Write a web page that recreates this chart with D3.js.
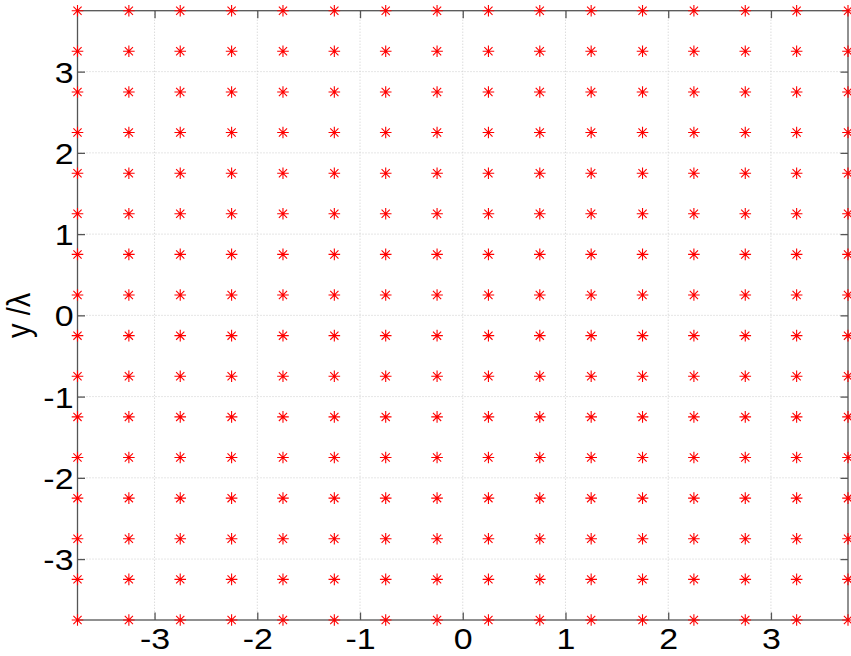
<!DOCTYPE html>
<html>
<head>
<meta charset="utf-8">
<script src="https://cdn.jsdelivr.net/npm/d3@7"></script>
<style>
  html, body { margin: 0; padding: 0; background: #fff; }
  svg { display: block; }
  text { font-family: "Liberation Sans", Arial, Helvetica, sans-serif; fill: #000; }
</style>
</head>
<body>
<svg id="chart" width="851" height="656"></svg>
<script>
// Lattice sample positions (in wavelengths)
const xPositions = [-3.75, -3.25, -2.75, -2.25, -1.75, -1.25, -0.75, -0.25,
                    0.25, 0.75, 1.25, 1.75, 2.25, 2.75, 3.25, 3.75];
const yPositions = [-3.75, -3.25, -2.75, -2.25, -1.75, -1.25, -0.75, -0.25,
                    0.25, 0.75, 1.25, 1.75, 2.25, 2.75, 3.25, 3.75];
const xTicks = [-3, -2, -1, 0, 1, 2, 3];
const yTicks = [-3, -2, -1, 0, 1, 2, 3];
const xDomain = [-3.75, 3.75];
const yDomain = [-3.75, 3.75];
const yLabel = "y /\u03bb";

const svg = d3.select("#chart");
const box = { left: 77.5, right: 848, top: 10.7, bottom: 620 };

const x = d3.scaleLinear().domain(xDomain).range([box.left, box.right]);
const y = d3.scaleLinear().domain(yDomain).range([box.bottom, box.top]);

const axisColor = "#555";
const tickLen = 7.5;
const labelStretch = 1.15;
const tickFont = "29.5px";

// dotted grid
const grid = svg.append("g");
grid.selectAll("line.gx").data(xTicks).join("line")
  .attr("x1", d => x(d)).attr("x2", d => x(d))
  .attr("y1", box.top).attr("y2", box.bottom)
  .attr("stroke", "#cccccc").attr("stroke-width", 1)
  .attr("stroke-dasharray", "1 2");
grid.selectAll("line.gy").data(yTicks).join("line")
  .attr("y1", d => y(d)).attr("y2", d => y(d))
  .attr("x1", box.left).attr("x2", box.right)
  .attr("stroke", "#cccccc").attr("stroke-width", 1)
  .attr("stroke-dasharray", "1 2");

// axes: inward ticks on all four sides
function styleAxis(g) {
  g.select(".domain").remove();
  g.selectAll(".tick line").attr("stroke", axisColor).attr("stroke-width", 1.3);
  g.selectAll(".tick text")
    .style("font-size", tickFont)
    .style("font-family", "'Liberation Sans', Arial, sans-serif")
    .attr("fill", "#000");
}

const fmt = d => String(d).replace("\u2212", "-");

svg.append("g")
  .attr("transform", `translate(0,${box.bottom})`)
  .call(d3.axisBottom(x).tickValues(xTicks).tickFormat(fmt)
        .tickSizeInner(-tickLen).tickSizeOuter(0).tickPadding(0))
  .call(styleAxis)
  .call(g => g.selectAll(".tick text")
    .attr("y", 0).attr("dy", "29.5px")
    .attr("transform", `scale(${labelStretch},1)`));

svg.append("g")
  .attr("transform", `translate(0,${box.top})`)
  .call(d3.axisTop(x).tickValues(xTicks).tickFormat("")
        .tickSizeInner(-tickLen).tickSizeOuter(0))
  .call(styleAxis);

svg.append("g")
  .attr("transform", `translate(${box.left},0)`)
  .call(d3.axisLeft(y).tickValues(yTicks).tickFormat(fmt)
        .tickSizeInner(-tickLen).tickSizeOuter(0).tickPadding(0))
  .call(styleAxis)
  .call(g => g.selectAll(".tick text")
    .attr("x", -4 / labelStretch).attr("dy", "10.5px")
    .attr("transform", `scale(${labelStretch},1)`));

svg.append("g")
  .attr("transform", `translate(${box.right},0)`)
  .call(d3.axisRight(y).tickValues(yTicks).tickFormat("")
        .tickSizeInner(-tickLen).tickSizeOuter(0))
  .call(styleAxis);

// frame
svg.append("rect")
  .attr("x", box.left).attr("y", box.top)
  .attr("width", box.right - box.left).attr("height", box.bottom - box.top)
  .attr("fill", "none").attr("stroke", axisColor).attr("stroke-width", 1.3);

// y axis title
svg.append("text")
  .attr("transform", `translate(30,${(box.top + box.bottom) / 2}) scale(${labelStretch},1) rotate(-90)`)
  .attr("text-anchor", "middle")
  .style("font-size", "29px")
  .text(yLabel);

// asterisk markers at every lattice point
const points = [];
yPositions.forEach(py => xPositions.forEach(px => points.push({ px, py })));

const r = 5.8;
const spokes = [0, 45, 90, 135].map(a => a * Math.PI / 180);
const starPath = spokes.map(a => {
  const dx = r * Math.cos(a), dy = r * Math.sin(a);
  return `M${-dx},${-dy}L${dx},${dy}`;
}).join("");

svg.append("g").selectAll("path").data(points).join("path")
  .attr("transform", d => `translate(${x(d.px)},${y(d.py)})`)
  .attr("d", starPath)
  .attr("fill", "none")
  .attr("stroke", "#ff0000")
  .attr("stroke-width", 1.1);
</script>
</body>
</html>
